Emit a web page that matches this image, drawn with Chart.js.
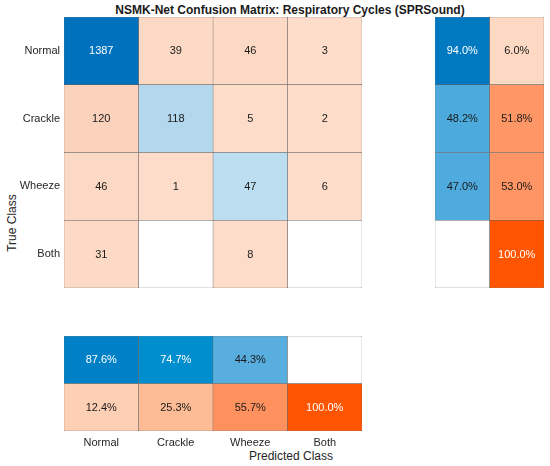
<!DOCTYPE html>
<html>
<head>
<meta charset="utf-8">
<script src="https://cdn.jsdelivr.net/npm/chart.js@4.4.1/dist/chart.umd.min.js"></script>
<style>
  body { margin: 0; background: #fff; width: 550px; height: 466px; position: relative; overflow: hidden; font-family: "Liberation Sans", Arial, sans-serif; color: #262626; }
  canvas { position: absolute; }
  .lbl { position: absolute; text-align: center; white-space: nowrap; font-size: 12px; line-height: 14px; }
</style>
</head>
<body>
<div class="lbl" style="left:90px; top:3px; width:400px; font-weight:bold; color:#1a1a1a;">NSMK-Net Confusion Matrix: Respiratory Cycles (SPRSound)</div>
<div class="lbl" style="left:-38px; top:216px; width:100px; transform:rotate(-90deg);">True Class</div>
<div class="lbl" style="left:191px; top:449px; width:200px;">Predicted Class</div>

<canvas id="mainChart" width="364" height="300" style="left:0; top:0;"></canvas>
<canvas id="rowChart" width="110" height="300" style="left:435px; top:0;"></canvas>
<canvas id="colChart" width="364" height="146" style="left:0; top:320px;"></canvas>

<script>
'use strict';
// classes (true rows / predicted columns)
let classes = ['Normal', 'Crackle', 'Wheeze', 'Both'];
// counts[true][predicted]
let counts = [
  [1387, 39, 46, 3],
  [120, 118, 5, 2],
  [46, 1, 47, 6],
  [31, 0, 8, 0]
];
// row summary (per true class), percent
let rowCorrect = [94.0, 48.2, 47.0, 0];
let rowWrong = [6.0, 51.8, 53.0, 100.0];
// column summary (per predicted class), percent
let colCorrect = [87.6, 74.7, 44.3, 0];
let colWrong = [12.4, 25.3, 55.7, 100.0];

let maxCount = Math.max(...counts.flat());

function lerp(a, b, t) {
  return a.map((v, i) => Math.round(v + (b[i] - v) * t));
}
function fromStops(stops, t) {
  for (let i = 1; i < stops.length; i++) {
    if (t <= stops[i][0]) {
      let f = (t - stops[i - 1][0]) / (stops[i][0] - stops[i - 1][0]);
      return lerp(stops[i - 1][1], stops[i][1], f);
    }
  }
  return stops[stops.length - 1][1];
}
let blueStops = [[0, [255, 255, 255]], [0.45, [85, 173, 222]], [0.75, [0, 142, 207]], [1, [0, 114, 189]]];
let orangeStops = [[0, [253, 226, 210]], [0.25, [253, 188, 150]], [0.55, [255, 146, 96]], [1, [255, 85, 0]]];

function rgb(c) { return 'rgb(' + c.join(',') + ')'; }
function textFor(c) {
  let lum = 0.299 * c[0] + 0.587 * c[1] + 0.114 * c[2];
  return lum < 140 ? '#ffffff' : '#1a1a1a';
}
function matrixColor(v, diag) {
  if (v === 0) return [255, 255, 255];
  let t = v / maxCount;
  return diag ? lerp([196, 226, 242], [0, 114, 189], t) : lerp([253, 221, 202], [225, 95, 40], t);
}
function summaryColor(p, good) {
  if (p === 0) return [255, 255, 255];
  return fromStops(good ? blueStops : orangeStops, p / 100);
}
function pct(p) { return p === 0 ? '' : p.toFixed(1) + '%'; }

// draws the cell texts at each bar's center
let cellText = {
  id: 'cellText',
  afterDatasetsDraw(chart) {
    let ctx = chart.ctx;
    ctx.save();
    ctx.font = '11px "Liberation Sans", Arial, sans-serif';
    ctx.textAlign = 'center';
    ctx.textBaseline = 'middle';
    chart.data.datasets.forEach((ds, i) => {
      chart.getDatasetMeta(i).data.forEach((el, k) => {
        let t = ds.texts[k];
        if (!t) return;
        let p = el.getCenterPoint();
        ctx.fillStyle = ds.textColors[k];
        ctx.fillText(t, p.x, p.y + 0.5);
      });
    });
    ctx.restore();
  }
};

let gridColor = '#5f5f5f';
let barBase = {
  borderColor: gridColor,
  borderWidth: 0.5,
  borderSkipped: false,
  barPercentage: 1,
  categoryPercentage: 1,
  grouped: false
};
let baseOpts = {
  responsive: false,
  animation: false,
  plugins: { legend: { display: false }, tooltip: { enabled: false }, title: { display: false } }
};

// main matrix: one dataset per predicted column, horizontal floating bars
let mainSets = classes.map((c, j) => {
  let cols = counts.map((row, i) => matrixColor(row[j], i === j));
  return Object.assign({}, barBase, {
    data: counts.map(() => [j, j + 1]),
    backgroundColor: cols.map(rgb),
    texts: counts.map(row => row[j] === 0 ? '' : String(row[j])),
    textColors: cols.map(textFor)
  });
});

new Chart(document.getElementById('mainChart'), {
  type: 'bar',
  data: { labels: classes, datasets: mainSets },
  options: Object.assign({}, baseOpts, {
    indexAxis: 'y',
    layout: { padding: { top: 17, bottom: 12, left: 0, right: 2 } },
    scales: {
      x: { type: 'linear', min: 0, max: 4, display: false },
      y: {
        type: 'category',
        grid: { display: false, drawTicks: false },
        border: { display: false },
        ticks: { color: '#262626', padding: 4, font: { size: 11, family: '"Liberation Sans", Arial, sans-serif' } },
        afterFit(scale) { scale.width = 64; }
      }
    }
  }),
  plugins: [cellText]
});

// row summary: correct / wrong per true class
let rowSets = [rowCorrect, rowWrong].map((vals, j) => {
  let cols = vals.map(p => summaryColor(p, j === 0));
  return Object.assign({}, barBase, {
    data: vals.map(() => [j, j + 1]),
    backgroundColor: cols.map(rgb),
    texts: vals.map(pct),
    textColors: cols.map(textFor)
  });
});

new Chart(document.getElementById('rowChart'), {
  type: 'bar',
  data: { labels: classes, datasets: rowSets },
  options: Object.assign({}, baseOpts, {
    indexAxis: 'y',
    layout: { padding: { top: 17, bottom: 12, left: 0, right: 1 } },
    scales: {
      x: { type: 'linear', min: 0, max: 2, display: false },
      y: { type: 'category', display: false }
    }
  }),
  plugins: [cellText]
});

// column summary: correct / wrong per predicted class
let colSets = [colCorrect, colWrong].map((vals, j) => {
  let cols = vals.map(p => summaryColor(p, j === 0));
  return Object.assign({}, barBase, {
    data: vals.map(() => [j, j + 1]),
    backgroundColor: cols.map(rgb),
    texts: vals.map(pct),
    textColors: cols.map(textFor)
  });
});

new Chart(document.getElementById('colChart'), {
  type: 'bar',
  data: { labels: classes, datasets: colSets },
  options: Object.assign({}, baseOpts, {
    layout: { padding: { top: 16, bottom: 0, left: 64, right: 2 } },
    scales: {
      y: { type: 'linear', min: 0, max: 2, reverse: true, display: false },
      x: {
        type: 'category',
        grid: { display: false, drawTicks: false },
        border: { display: false },
        ticks: { color: '#262626', padding: 5, font: { size: 11, family: '"Liberation Sans", Arial, sans-serif' } },
        afterFit(scale) { scale.height = 35; }
      }
    }
  }),
  plugins: [cellText]
});
</script>
</body>
</html>
